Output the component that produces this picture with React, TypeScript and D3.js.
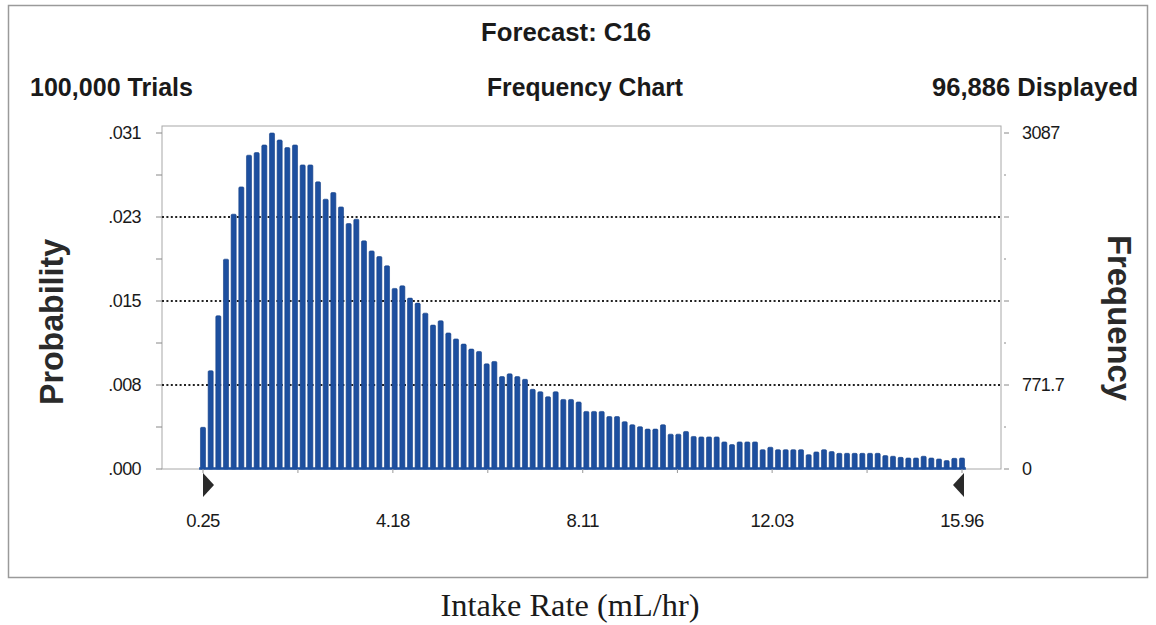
import React from "react";
import * as d3 from "d3";

// ---- Data ----
const frequencies: number[] = [
  383, 903, 1408, 1928, 2341, 2592, 2883, 2907, 2977, 3087,
  3023, 2953, 2977, 2794, 2794, 2638, 2479, 2540, 2408, 2255,
  2295, 2096, 2004, 1952, 1867, 1659, 1683, 1570, 1524, 1432,
  1322, 1362, 1250, 1195, 1148, 1102, 1080, 966, 988, 849,
  874, 849, 824, 732, 710, 664, 710, 639, 639, 616,
  529, 529, 529, 482, 482, 435, 407, 389, 367, 367,
  407, 320, 320, 345, 299, 295, 295, 295, 249, 224,
  249, 249, 249, 178, 200, 178, 178, 178, 178, 132,
  157, 178, 160, 144, 144, 144, 144, 144, 144, 123,
  117, 107, 101, 101, 117, 101, 92, 77, 98, 101,
];
const maxFrequency = 3087;
const probabilityLabels = [".000", ".008", ".015", ".023", ".031"];
const frequencyLabels = ["0", "771.7", "", "", "3087"];
const xTickLabels = ["0.25", "4.18", "8.11", "12.03", "15.96"];
const xMin = 0.25;
const xMax = 15.96;
const titleText = "Forecast: C16";
const trialsText = "100,000 Trials";
const chartText = "Frequency Chart";
const displayedText = "96,886 Displayed";
const xAxisTitle = "Intake Rate (mL/hr)";

export default function App() {
  const W = 1156;
  const H = 625;
  const frame = { left: 162, right: 1001, top: 126, bottom: 469 };
  const y = d3.scaleLinear().domain([0, maxFrequency]).range([469, 133]);
  const xLin = d3.scaleLinear().domain([xMin, xMax]).range([203, 962]);
  const n = frequencies.length;
  const pitch = (xLin(xMax) - xLin(xMin)) / (n - 1);
  const xb = d3
    .scaleBand<number>()
    .domain(d3.range(n))
    .range([xLin(xMin) - pitch / 2, xLin(xMax) + pitch / 2])
    .paddingInner(0.34)
    .paddingOuter(0.17);

  const yTicks = d3.range(0, 9).map((i) => (maxFrequency * i) / 8);
  const xTickVals = xTickLabels.map((s) => parseFloat(s));
  const xMinor = xTickVals.slice(0, -1).map((v, i) => (v + xTickVals[i + 1]) / 2);

  const sans = "'Liberation Sans', Arial, sans-serif";
  const bw = xb.bandwidth();

  return (
    <svg
      width={W}
      height={H}
      style={{ position: "absolute", left: 0, top: 0, background: "#fff" }}
    >
      <rect x={0} y={0} width={W} height={H} fill="#fff" />
      {/* outer frame */}
      <rect x={8.5} y={5.5} width={1139} height={572} fill="none" stroke="#9a9a9a" strokeWidth={1.5} />

      {/* headers */}
      <text x={566} y={41} fontFamily={sans} fontWeight="bold" fontSize={25} textAnchor="middle" textLength={170} lengthAdjust="spacingAndGlyphs" fill="#1a1a1a">
        {titleText}
      </text>
      <text x={30} y={96} fontFamily={sans} fontWeight="bold" fontSize={25} textLength={163} lengthAdjust="spacingAndGlyphs" fill="#1a1a1a">
        {trialsText}
      </text>
      <text x={585} y={96} fontFamily={sans} fontWeight="bold" fontSize={25} textAnchor="middle" textLength={196} lengthAdjust="spacingAndGlyphs" fill="#1a1a1a">
        {chartText}
      </text>
      <text x={1138} y={96} fontFamily={sans} fontWeight="bold" fontSize={25} textAnchor="end" textLength={206} lengthAdjust="spacingAndGlyphs" fill="#1a1a1a">
        {displayedText}
      </text>

      {/* plot frame */}
      <rect x={frame.left} y={frame.top} width={frame.right - frame.left} height={frame.bottom - frame.top} fill="none" stroke="#a8a8a8" strokeWidth={1} />

      {/* gridlines */}
      {yTicks.filter((_, i) => i % 2 === 0 && i > 0 && i < 8).map((t, i) => (
        <line key={"g" + i} x1={frame.left} x2={frame.right} y1={y(t)} y2={y(t)} stroke="#222" strokeWidth={2} strokeDasharray="2 2.4" />
      ))}

      {/* left & right ticks */}
      {yTicks.map((t, i) => (
        <g key={"t" + i}>
          <line x1={156} x2={frame.left} y1={y(t)} y2={y(t)} stroke="#888" strokeWidth={1} />
          <line x1={1004} x2={i % 2 === 0 ? 1009 : 1006} y1={y(t)} y2={y(t)} stroke="#888" strokeWidth={1} />
        </g>
      ))}
      {probabilityLabels.map((s, i) => (
        <text key={"pl" + i} x={141} y={y((maxFrequency * i) / 4) + 6} fontFamily={sans} fontSize={18} textAnchor="end" fill="#1a1a1a" letterSpacing={-0.6}>
          {s}
        </text>
      ))}
      {frequencyLabels.map((s, i) =>
        s ? (
          <text key={"fl" + i} x={1022} y={y((maxFrequency * i) / 4) + 6} fontFamily={sans} fontSize={18} fill="#1a1a1a" letterSpacing={-0.6}>
            {s}
          </text>
        ) : null
      )}

      {/* bars */}
      {frequencies.map((v, i) => (
        <rect
          key={"b" + i}
          x={xb(i)}
          y={y(v)}
          width={bw}
          height={y(0) - y(v)}
          rx={1.2}
          fill="#1d4f9f"
          stroke="#143f86"
          strokeWidth={0.6}
        />
      ))}
      {/* blue baseline */}
      <line x1={xLin(xMin) - pitch / 2} x2={xLin(xMax) + pitch / 2} y1={y(0) - 0.5} y2={y(0) - 0.5} stroke="#1d4f9f" strokeWidth={2.5} />

      {/* x ticks */}
      {xTickVals.concat(xMinor).map((v, i) => (
        <line key={"xt" + i} x1={xLin(v)} x2={xLin(v)} y1={frame.bottom} y2={frame.bottom + 4} stroke="#999" strokeWidth={1} />
      ))}
      {xTickLabels.map((s, i) => (
        <text key={"xl" + i} x={xLin(xTickVals[i])} y={527} fontFamily={sans} fontSize={18.5} textAnchor="middle" fill="#1a1a1a" letterSpacing={-0.6}>
          {s}
        </text>
      ))}

      {/* range markers */}
      <path d={`M${xLin(xMin)},473 L${xLin(xMin) + 11},485 L${xLin(xMin)},497 Z`} fill="#2a2a2a" />
      <path d={`M${xLin(xMax) + 2},473 L${xLin(xMax) - 9},485 L${xLin(xMax) + 2},497 Z`} fill="#2a2a2a" />

      {/* axis titles */}
      <text transform="translate(63,322) rotate(-90)" fontFamily={sans} fontWeight="bold" fontSize={33} textAnchor="middle" textLength={166} lengthAdjust="spacingAndGlyphs" fill="#2a2a2a">
        Probability
      </text>
      <text transform="translate(1108,318) rotate(90)" fontFamily={sans} fontWeight="bold" fontSize={33} textAnchor="middle" textLength={166} lengthAdjust="spacingAndGlyphs" fill="#2a2a2a">
        Frequency
      </text>

      <text x={570} y={616} fontFamily="'Liberation Serif', 'Times New Roman', serif" fontSize={31} textAnchor="middle" textLength={259} lengthAdjust="spacingAndGlyphs" fill="#1a1a1a">
        {xAxisTitle}
      </text>
    </svg>
  );
}
